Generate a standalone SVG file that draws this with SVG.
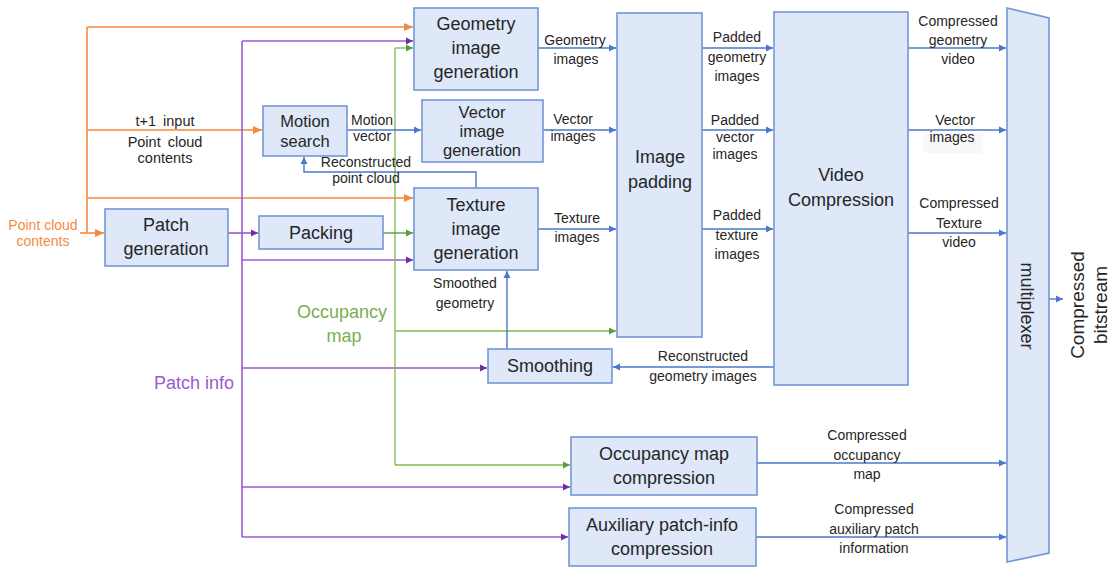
<svg xmlns="http://www.w3.org/2000/svg" width="1115" height="567" viewBox="0 0 1115 567">
  <style>
    .box { fill: #DEE8F8; stroke: #7397D6; stroke-width: 1.6; }
    .t { font-family: "Liberation Sans", Arial, sans-serif; fill: #262626; text-anchor: middle; }
    .big { font-size: 18px; }
    .mid { font-size: 16.5px; }
    .sm { font-size: 14px; }
    .in { font-size: 14.5px; word-spacing: 3px; }
    .blue { stroke: #4A78CA; stroke-width: 1.4; fill: none; }
    .org { stroke: #F48A3E; stroke-width: 1.6; fill: none; }
    .pur { stroke: #9A5AD2; stroke-width: 1.6; fill: none; }
    .grn { stroke: #7DBA55; stroke-width: 1.3; fill: none; }
    .grnd { stroke: #5E9C3C; stroke-width: 1.4; fill: none; }
  </style>
  <defs>
    <marker id="ab" markerWidth="8" markerHeight="8" refX="7" refY="4" orient="auto" markerUnits="userSpaceOnUse">
      <path d="M0,0.5 L7,4 L0,7.5 z" fill="#4A78CA"/>
    </marker>
    <marker id="ao" markerWidth="10" markerHeight="10" refX="9" refY="5" orient="auto" markerUnits="userSpaceOnUse">
      <path d="M0,1 L9,5 L0,9 z" fill="#F48A3E"/>
    </marker>
    <marker id="ap" markerWidth="8" markerHeight="8" refX="7" refY="4" orient="auto" markerUnits="userSpaceOnUse">
      <path d="M0,0.5 L7,4 L0,7.5 z" fill="#7030A0"/>
    </marker>
    <marker id="ag" markerWidth="8" markerHeight="8" refX="7" refY="4" orient="auto" markerUnits="userSpaceOnUse">
      <path d="M0,0.5 L7,4 L0,7.5 z" fill="#5E9C3C"/>
    </marker>
  </defs>

  <!-- connectors -->
  <g id="connectors">
    <!-- point cloud input (orange) -->
    <path class="org" d="M87,27 V233"/>
    <path class="org" d="M80,233 H104" marker-end="url(#ao)"/>
    <path class="org" d="M87,27 H413" marker-end="url(#ao)"/>
    <path class="org" d="M87,130 H262" marker-end="url(#ao)"/>
    <path class="org" d="M87,198 H413" marker-end="url(#ao)"/>

    <!-- patch info (purple) -->
    <path class="pur" d="M242,41 V537"/>
    <path class="pur" d="M242,41 H413" marker-end="url(#ap)"/>
    <path class="pur" d="M228,233 H258" marker-end="url(#ap)"/>
    <path class="pur" d="M242,260 H413" marker-end="url(#ap)"/>
    <path class="pur" d="M242,368 H487" marker-end="url(#ap)"/>
    <path class="pur" d="M242,487 H570" marker-end="url(#ap)"/>
    <path class="pur" d="M242,537 H568" marker-end="url(#ap)"/>

    <!-- occupancy map (green) -->
    <path class="grn" d="M395,48 V465"/>
    <path class="grn" d="M395,48 H413" marker-end="url(#ag)"/>
    <path class="grnd" d="M383,233 H413" marker-end="url(#ag)"/>
    <path class="grn" d="M395,331 H616" marker-end="url(#ag)"/>
    <path class="grn" d="M395,465 H570" marker-end="url(#ag)"/>

    <!-- motion / reconstruction (blue) -->
    <path class="blue" d="M347,130 H421" marker-end="url(#ab)"/>
    <path class="blue" d="M476,188 V172 H304 V157" marker-end="url(#ab)"/>
    <path class="blue" d="M507,349 V271" marker-end="url(#ab)"/>

    <!-- image generation to padding -->
    <path class="blue" d="M538,48 H616" marker-end="url(#ab)"/>
    <path class="blue" d="M543,130 H616" marker-end="url(#ab)"/>
    <path class="blue" d="M538,229 H616" marker-end="url(#ab)"/>

    <!-- padding to video compression -->
    <path class="blue" d="M702,48 H773" marker-end="url(#ab)"/>
    <path class="blue" d="M702,130 H773" marker-end="url(#ab)"/>
    <path class="blue" d="M702,229 H773" marker-end="url(#ab)"/>

    <!-- video compression to multiplexer -->
    <path class="blue" d="M908,48 H1006" marker-end="url(#ab)"/>
    <path class="blue" d="M908,130 H1006" marker-end="url(#ab)"/>
    <path class="blue" d="M908,233 H1006" marker-end="url(#ab)"/>
    <path class="blue" d="M774,367 H613" marker-end="url(#ab)"/>
    <path class="blue" d="M757,463 H1006" marker-end="url(#ab)"/>
    <path class="blue" d="M756,537 H1006" marker-end="url(#ab)"/>
    <path class="blue" d="M1049,299 H1063" marker-end="url(#ab)"/>
  </g>

  <!-- connector labels -->
  <g id="labels">
    <text class="t" x="43" y="230" style="fill:#F48A3E;font-size:14px">Point cloud</text>
    <text class="t" x="43" y="246" style="fill:#F48A3E;font-size:14px">contents</text>
    <text class="t in" x="165" y="126">t+1 input</text>
    <text class="t in" x="165" y="147">Point cloud</text>
    <text class="t in" x="165" y="163">contents</text>
    <text class="t sm" x="372" y="125">Motion</text>
    <text class="t sm" x="372" y="141">vector</text>
    <text class="t sm" x="366" y="167">Reconstructed</text>
    <text class="t sm" x="366" y="183">point cloud</text>
    <text class="t sm" x="575" y="45">Geometry</text>
    <text class="t sm" x="576" y="64">images</text>
    <text class="t sm" x="573" y="124">Vector</text>
    <text class="t sm" x="573" y="141">images</text>
    <text class="t sm" x="577" y="223">Texture</text>
    <text class="t sm" x="577" y="242">images</text>
    <text class="t sm" x="737" y="42">Padded</text>
    <text class="t sm" x="737" y="62">geometry</text>
    <text class="t sm" x="737" y="81">images</text>
    <text class="t sm" x="735" y="125">Padded</text>
    <text class="t sm" x="735" y="142">vector</text>
    <text class="t sm" x="735" y="159">images</text>
    <text class="t sm" x="737" y="220">Padded</text>
    <text class="t sm" x="737" y="240">texture</text>
    <text class="t sm" x="737" y="259">images</text>
    <text class="t sm" x="958" y="26">Compressed</text>
    <text class="t sm" x="958" y="45">geometry</text>
    <text class="t sm" x="958" y="64">video</text>
    <rect x="923" y="133" width="60" height="20" fill="#F8F8F8"/>
    <text class="t sm" x="955" y="125">Vector</text>
    <text class="t sm" x="952" y="142">images</text>
    <text class="t sm" x="959" y="208">Compressed</text>
    <text class="t sm" x="959" y="228">Texture</text>
    <text class="t sm" x="959" y="247">video</text>
    <text class="t" x="342" y="318" style="fill:#7BAE4E;font-size:18px">Occupancy</text>
    <text class="t" x="344" y="342" style="fill:#7BAE4E;font-size:18px">map</text>
    <text class="t" x="194" y="389" style="fill:#9A5AD2;font-size:18px">Patch info</text>
    <text class="t sm" x="465" y="288">Smoothed</text>
    <text class="t sm" x="465" y="308">geometry</text>
    <text class="t sm" x="703" y="361">Reconstructed</text>
    <text class="t sm" x="703" y="381">geometry images</text>
    <text class="t sm" x="867" y="440">Compressed</text>
    <text class="t sm" x="867" y="460">occupancy</text>
    <text class="t sm" x="867" y="479">map</text>
    <text class="t sm" x="874" y="514">Compressed</text>
    <text class="t sm" x="874" y="534">auxiliary patch</text>
    <text class="t sm" x="874" y="553">information</text>
    <text class="t" transform="translate(1084,305) rotate(-90)" style="font-size:19px">Compressed</text>
    <text class="t" transform="translate(1107,305) rotate(-90)" style="font-size:19px">bitstream</text>
  </g>

  <!-- nodes -->
  <g id="geometry-image-generation">
    <rect class="box" x="414" y="8" width="124" height="82"/>
    <text class="t big" x="476" y="30">Geometry</text>
    <text class="t big" x="476" y="54">image</text>
    <text class="t big" x="476" y="78">generation</text>
  </g>
  <g id="vector-image-generation">
    <rect class="box" x="422" y="100" width="121" height="62"/>
    <text class="t mid" x="482" y="118">Vector</text>
    <text class="t mid" x="482" y="137">image</text>
    <text class="t mid" x="482" y="156">generation</text>
  </g>
  <g id="texture-image-generation">
    <rect class="box" x="414" y="188" width="124" height="82"/>
    <text class="t big" x="476" y="211">Texture</text>
    <text class="t big" x="476" y="235">image</text>
    <text class="t big" x="476" y="259">generation</text>
  </g>
  <g id="motion-search">
    <rect class="box" x="263" y="106" width="84" height="50"/>
    <text class="t mid" x="305" y="127">Motion</text>
    <text class="t mid" x="305" y="147">search</text>
  </g>
  <g id="patch-generation">
    <rect class="box" x="105" y="209" width="123" height="57"/>
    <text class="t big" x="166" y="231">Patch</text>
    <text class="t big" x="166" y="255">generation</text>
  </g>
  <g id="packing">
    <rect class="box" x="259" y="216" width="124" height="33"/>
    <text class="t big" x="321" y="239">Packing</text>
  </g>
  <g id="image-padding">
    <rect class="box" x="617" y="13" width="85" height="324"/>
    <text class="t big" x="660" y="163">Image</text>
    <text class="t big" x="660" y="188">padding</text>
  </g>
  <g id="video-compression">
    <rect class="box" x="774" y="12" width="134" height="373"/>
    <text class="t big" x="841" y="181">Video</text>
    <text class="t big" x="841" y="206">Compression</text>
  </g>
  <g id="multiplexer">
    <path class="box" d="M1007,8 L1049,18 L1049,553 L1007,562 Z"/>
    <text class="t big" transform="translate(1021,306) rotate(90)">multiplexer</text>
  </g>
  <g id="smoothing">
    <rect class="box" x="488" y="349" width="124" height="34"/>
    <text class="t big" x="550" y="372">Smoothing</text>
  </g>
  <g id="occupancy-map-compression">
    <rect class="box" x="571" y="437" width="186" height="58"/>
    <text class="t big" x="664" y="460">Occupancy map</text>
    <text class="t big" x="664" y="484">compression</text>
  </g>
  <g id="auxiliary-patch-info-compression">
    <rect class="box" x="569" y="508" width="187" height="58"/>
    <text class="t big" x="662" y="531">Auxiliary patch-info</text>
    <text class="t big" x="662" y="555">compression</text>
  </g>
</svg>
